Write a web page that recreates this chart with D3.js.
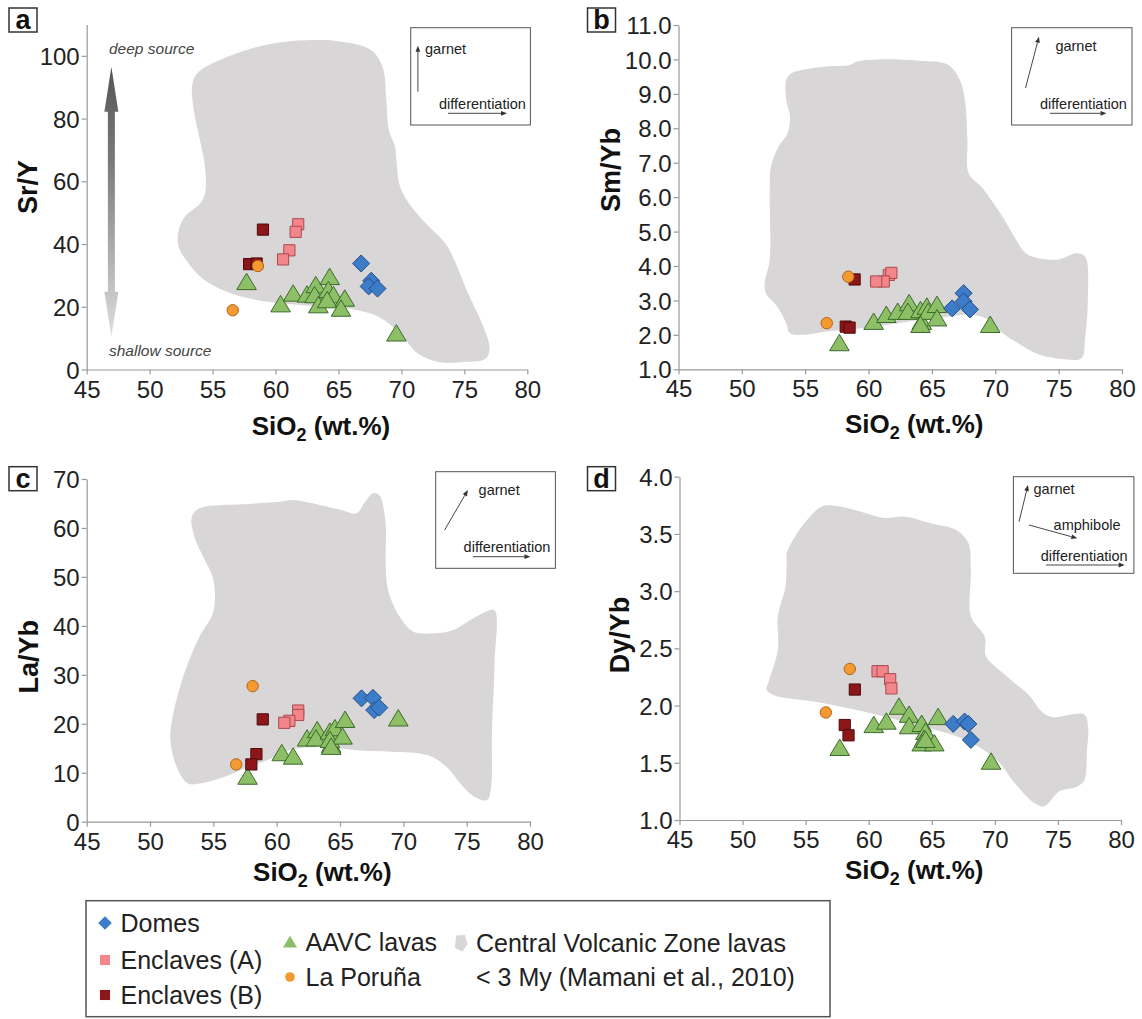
<!DOCTYPE html>
<html><head><meta charset="utf-8">
<script src="https://cdn.jsdelivr.net/npm/d3@7"></script>
<style>
body{margin:0;background:#fff}
svg{display:block;font-family:"Liberation Sans",Arial,Helvetica,sans-serif}
</style>
</head><body>
<svg id="chart" width="1142" height="1019"></svg>
<script>
// ---------- tick labels ----------
const xTicks = [45, 50, 55, 60, 65, 70, 75, 80];
const srYTicks = [0, 20, 40, 60, 80, 100];
const smYbTicks = [1, 2, 3, 4, 5, 6, 7, 8, 9, 10, 11];
const laYbTicks = [0, 10, 20, 30, 40, 50, 60, 70];
const dyYbTicks = [1.0, 1.5, 2.0, 2.5, 3.0, 3.5, 4.0];

// ---------- legend categories ----------
const groupNames = ["Domes", "Enclaves (A)", "Enclaves (B)", "AAVC lavas", "La Poruña"];
const fieldName = ["Central Volcanic Zone lavas", "< 3 My (Mamani et al., 2010)"];

// ---------- panel a : Sr/Y vs SiO2 ----------
const domesA = [[66.8,33.8],[67.6,28.3],[67.4,26.5],[68.1,25.8]];
const enclavesAA = [[61.8,46.3],[61.6,43.9],[61.1,38.0],[60.6,35.1]];
const enclavesBA = [[59.0,44.6],[57.9,33.6],[58.5,33.8]];
const porunaA = [[58.6,33.0],[56.6,18.9]];
const aavcA = [[57.7,27.9],[60.4,20.8],[61.4,24.2],[62.5,23.9],[63.2,26.9],[63.1,23.7],[63.4,20.5],
               [64.3,29.5],[64.2,25.3],[64.6,23.7],[64.1,22.1],[65.5,22.6],[65.2,19.4],[69.6,11.5]];
const cvzA = [[53.4,91.2],[53.9,94.9],[56.5,100.2],[59.7,103.9],[62.5,105],[65.3,104.5],[67.6,101.8],
              [68.5,96.5],[68.8,85.9],[69.0,76.3],[69.5,71],[69.6,66.7],[69.9,58.2],[70.8,51.9],
              [72.2,45.5],[73.5,40.2],[74.2,34.9],[75.3,24.2],[76.4,14.7],[77.0,7.2],[76.7,3.5],
              [75.0,2.4],[73.0,2.4],[71.3,5.1],[69.9,11.5],[68.2,16.8],[66.5,18.9],[64.5,20],
              [62.2,20.5],[59.4,21.6],[56.5,24.2],[54.2,29],[53.1,33.8],[52.3,39.1],[52.3,44.4],
              [52.8,48.7],[54.0,52.9],[54.4,56.1],[54.4,64.6],[54.0,73.1],[53.5,82.7]];

// ---------- panel b : Sm/Yb vs SiO2 ----------
const domesB = [[66.6,2.77],[67.5,3.21],[67.5,2.97],[68.0,2.74]];
const enclavesAB = [[61.6,3.74],[61.8,3.80],[61.2,3.55],[60.6,3.55]];
const enclavesBB = [[58.9,3.61],[58.2,2.24],[58.5,2.21]];
const porunaB = [[58.4,3.69],[56.7,2.34]];
const aavcB = [[57.7,1.76],[60.4,2.38],[61.4,2.58],[62.3,2.67],[63.2,2.92],[63.1,2.67],[64.1,2.72],
               [64.2,2.38],[64.6,2.82],[64.7,2.67],[65.4,2.87],[65.4,2.48],[64.1,2.29],[69.6,2.29]];
const cvzB = [[53.5,9.40],[53.9,9.60],[56.5,9.79],[58.5,9.84],[59.1,9.94],[60.8,10.0],[64.0,9.96],
              [66.3,9.84],[67.2,9.40],[67.6,8.82],[67.8,7.66],[67.9,6.69],[68.9,6.30],[70.4,5.53],
              [71.5,4.85],[72.4,4.37],[73.5,4.22],[75.0,4.19],[76.4,4.37],[77.1,4.27],[77.3,3.01],
              [77.1,1.95],[76.8,1.32],[75.5,1.29],[73.5,1.42],[71.8,1.76],[70.6,2.05],[69.5,2.43],
              [68.3,2.58],[65.2,2.48],[62.3,2.34],[59.4,2.19],[56.5,2.09],[54.8,2.00],[53.8,2.05],
              [53.5,2.34],[52.8,2.82],[51.9,3.21],[51.8,3.50],[52.2,4.18],[52.2,6.11],[52.3,6.89],
              [52.9,7.47],[53.6,7.85],[53.8,8.34],[53.5,8.82]];

// ---------- panel c : La/Yb vs SiO2 ----------
const domesC = [[66.7,25.2],[67.6,25.3],[67.7,22.8],[68.1,23.3]];
const enclavesAC = [[61.7,22.7],[61.7,21.8],[61.0,20.6],[60.6,20.2]];
const enclavesBC = [[58.9,20.9],[58.4,13.8],[58.0,11.7]];
const porunaC = [[58.1,27.7],[56.8,11.7]];
const aavcC = [[57.7,9.2],[60.4,14.0],[61.3,13.3],[62.4,17.0],[63.2,18.7],[63.1,17.0],[64.2,18.4],
               [64.6,19.1],[64.3,15.7],[64.2,16.7],[65.2,17.4],[65.4,20.8],[64.3,15.3],[69.6,21.1]];
const cvzC = [[53.3,62.3],[53.9,64.0],[57.8,64.9],[60.4,65.4],[61.2,65.7],[62.1,65.4],[64.9,63.8],
              [66.3,63.0],[66.9,65.0],[67.6,67.1],[68.1,66.7],[68.6,60.9],[68.6,52.8],[68.8,47.3],
              [69.7,41.9],[70.8,38.8],[72.5,38.5],[73.9,39.1],[75.3,41.2],[76.5,42.9],[77.2,43.2],
              [77.2,32.3],[77.0,18.7],[76.9,6.5],[76.6,4.4],[75.6,5.1],[74.5,7.8],[73.4,11.2],
              [71.9,13.6],[69.1,14.3],[66.3,14.6],[63.5,15.3],[61.0,14.6],[59.3,12.6],[57.8,11.2],
              [55.9,9.2],[53.9,7.8],[53.0,7.8],[52.2,10.6],[51.6,16.7],[51.9,22.8],[52.8,31.0],
              [53.9,37.8],[55.0,42.9],[55.0,49.4],[54.2,54.1],[53.5,58.2]];

// ---------- panel d : Dy/Yb vs SiO2 ----------
const domesD = [[66.7,1.84],[67.6,1.86],[67.9,1.84],[68.1,1.70]];
const enclavesAD = [[60.7,2.30],[61.1,2.30],[61.7,2.23],[61.8,2.15]];
const enclavesBD = [[58.9,2.14],[58.1,1.83],[58.4,1.74]];
const porunaD = [[58.5,2.32],[56.6,1.94]];
const aavcD = [[57.7,1.63],[60.4,1.83],[61.4,1.86],[62.4,1.99],[63.2,1.92],[63.2,1.82],[64.2,1.84],
               [64.5,1.77],[64.4,1.71],[64.2,1.67],[65.2,1.67],[65.5,1.90],[64.5,1.70],[69.7,1.51]];
const cvzD = [[53.5,3.33],[54.0,3.45],[55.1,3.62],[56.3,3.74],[57.7,3.74],[59.5,3.69],[61.2,3.64],
              [62.9,3.65],[65.0,3.59],[67.0,3.53],[67.9,3.42],[68.1,3.18],[68.1,2.78],[69.2,2.60],
              [69.3,2.43],[71.0,2.25],[72.8,2.08],[73.6,1.96],[74.5,1.90],[77.1,1.92],[77.4,1.79],
              [77.3,1.61],[77.1,1.35],[76.5,1.29],[75.1,1.25],[73.9,1.12],[73.1,1.15],[71.6,1.32],
              [70.2,1.52],[68.7,1.64],[67.0,1.73],[65.2,1.79],[62.4,1.87],[59.5,1.95],[56.0,2.03],
              [52.5,2.09],[51.9,2.14],[52.1,2.22],[52.8,2.49],[52.8,2.78],[53.4,3.04],[53.5,3.24]];

// ---------- styles ----------
const FIELD = "#d8d6d6";
const AXIS = "#999";
const TXT = "#222";
const styles = {
  dome:  {fill:"#3d7cc9", stroke:"#234f86"},
  encA:  {fill:"#f2868a", stroke:"#a94a4e"},
  encB:  {fill:"#8c171b", stroke:"#4d0a0c"},
  aavc:  {fill:"#8dc066", stroke:"#3c6a2b"},
  poru:  {fill:"#f59a30", stroke:"#b0661a"}
};

const svg = d3.select("#chart");
const defs = svg.append("defs");
const grad = defs.append("linearGradient").attr("id","depthGrad")
  .attr("x1",0).attr("y1",0).attr("x2",0).attr("y2",1);
grad.append("stop").attr("offset","0%").attr("stop-color","#555");
grad.append("stop").attr("offset","35%").attr("stop-color","#7a7a7a");
grad.append("stop").attr("offset","100%").attr("stop-color","#dedede");

function shapePath(kind, s) {
  s = s || 1;
  if (kind === "dome") { const h = 8.5*s; return `M0,${-h}L${h},0L0,${h}L${-h},0Z`; }
  if (kind === "encA" || kind === "encB") { const h = 5.6*s; return `M${-h},${-h}H${h}V${h}H${-h}Z`; }
  if (kind === "aavc") { return `M0,${-8.8*s}L${9.8*s},${7.6*s}L${-9.8*s},${7.6*s}Z`; }
  if (kind === "poru") { return d3.symbol(d3.symbolCircle, Math.PI*Math.pow(5.7*s,2))(); }
}

function arrow(g, x1, y1, x2, y2, color, w) {
  color = color || "#333"; w = w || 0.9;
  const ang = Math.atan2(y2-y1, x2-x1);
  const L = 6, W = 2.4;
  const bx = x2 - L*Math.cos(ang), by = y2 - L*Math.sin(ang);
  g.append("line").attr("x1",x1).attr("y1",y1).attr("x2",bx).attr("y2",by)
    .attr("stroke",color).attr("stroke-width",w);
  const px = -Math.sin(ang)*W, py = Math.cos(ang)*W;
  g.append("path").attr("d",`M${x2},${y2}L${bx+px},${by+py}L${bx-px},${by-py}Z`).attr("fill",color);
}

function drawPanel(p) {
  const g = svg.append("g");
  const x = d3.scaleLinear().domain([45, 80]).range(p.xr);
  const y = d3.scaleLinear().domain(p.yDomain).range(p.yr);

  // field
  const line = d3.line().x(d => x(d[0])).y(d => y(d[1])).curve(d3.curveCatmullRomClosed.alpha(0.5));
  g.append("path").attr("d", line(p.field)).attr("fill", FIELD);

  // axes
  const ax = g.append("g").attr("transform", `translate(0,${p.yr[0]})`)
    .call(d3.axisBottom(x).tickValues(xTicks).tickSize(5).tickPadding(6).tickSizeOuter(0));
  const ay = g.append("g").attr("transform", `translate(${p.xr[0]},0)`)
    .call(d3.axisLeft(y).tickValues(p.yTicks).tickFormat(p.fmt).tickSize(5).tickPadding(2).tickSizeOuter(0));
  [ax, ay].forEach(a => {
    a.select(".domain").attr("stroke", AXIS).attr("stroke-width", 1.2);
    a.selectAll(".tick line").attr("stroke", AXIS).attr("stroke-width", 1.2);
    a.selectAll(".tick text").attr("fill", TXT).style("font-size", "24px")
      .style("font-family", '"Liberation Sans",Arial,sans-serif');
  });
  ay.selectAll(".tick text").attr("dy", "0.36em");

  // points
  const groups = [
    ["aavc", p.aavc], ["dome", p.dome], ["encA", p.encA], ["encB", p.encB], ["poru", p.poru]
  ];
  groups.forEach(([k, data]) => {
    g.append("g").selectAll("path").data(data).join("path")
      .attr("transform", d => `translate(${x(d[0])},${y(d[1])})`)
      .attr("d", shapePath(k))
      .attr("fill", styles[k].fill).attr("stroke", styles[k].stroke).attr("stroke-width", 1);
  });

  // panel letter box
  g.append("rect").attr("x", p.box[0]).attr("y", p.box[1]).attr("width", 28).attr("height", 24)
    .attr("fill", "#fff").attr("stroke", "#333").attr("stroke-width", 1.5);
  g.append("text").attr("x", p.box[0] + 14).attr("y", p.box[1] + 21).attr("text-anchor", "middle")
    .attr("font-weight", "bold").attr("font-size", 27).attr("fill", "#111").text(p.letter);

  // y title
  g.append("text").attr("transform", `translate(${p.yt[0]},${p.yt[1]}) rotate(-90)`)
    .attr("text-anchor", "middle").attr("dy", "0.36em")
    .attr("font-weight", "bold").attr("font-size", 27).attr("fill", "#111").text(p.yTitle);

  // x title
  const xt = g.append("text").attr("x", (p.xr[0] + p.xr[1]) / 2 + 14).attr("y", p.xtY)
    .attr("text-anchor", "middle").attr("font-weight", "bold").attr("font-size", 26).attr("fill", "#111");
  xt.append("tspan").text("SiO");
  xt.append("tspan").attr("font-size", 18).attr("dy", 6).text("2");
  xt.append("tspan").attr("dy", -6).text(" (wt.%)");

  // inset
  const b = p.inset;
  g.append("rect").attr("x", b.box[0]).attr("y", b.box[1]).attr("width", b.box[2]).attr("height", b.box[3])
    .attr("fill", "#fff").attr("stroke", "#555").attr("stroke-width", 1);
  b.arrows.forEach(a => arrow(g, a[0], a[1], a[2], a[3]));
  b.texts.forEach(t => g.append("text").attr("x", t[0]).attr("y", t[1]).attr("dy", "0.35em")
    .attr("font-size", 14.5).attr("fill", TXT).text(t[2]));

  return {g, x, y};
}

// ---------- panel a ----------
const pa = drawPanel({
  xr: [86.7, 527.3], yr: [369.5, 24.5], yDomain: [0, 110], yTicks: srYTicks, fmt: d3.format("d"),
  field: cvzA, dome: domesA, encA: enclavesAA, encB: enclavesBA, poru: porunaA, aavc: aavcA,
  box: [9, 8], letter: "a", yTitle: "Sr/Y", yt: [27, 187], xtY: 435,
  inset: {box: [410.7, 27.7, 119.7, 97.3],
          arrows: [[417.9, 91.7, 417.9, 45.7], [448, 113.3, 507, 113.3]],
          texts: [[425, 49, "garnet"], [439, 104, "differentiation"]]}
});
// deep / shallow source arrow (in data coordinates of panel a)
(function(){
  const {g, x, y} = pa;
  const cx = x(46.96), top = y(96.5), hb = y(82.2), ht = y(24.8), bot = y(10.5);
  const hw = 7, sw = 3.5;
  g.append("path").attr("d",
    `M${cx},${top}L${cx+hw},${hb}L${cx+sw},${hb}L${cx+sw},${ht}L${cx+hw},${ht}L${cx},${bot}` +
    `L${cx-hw},${ht}L${cx-sw},${ht}L${cx-sw},${hb}L${cx-hw},${hb}Z`)
    .attr("fill", "url(#depthGrad)");
  g.append("text").attr("x", x(46.77)).attr("y", y(102.4)).attr("dy", "0.35em")
    .attr("font-style", "italic").attr("font-size", 15.5).attr("fill", "#444").text("deep source");
  g.append("text").attr("x", x(46.77)).attr("y", y(6.0)).attr("dy", "0.35em")
    .attr("font-style", "italic").attr("font-size", 15.5).attr("fill", "#444").text("shallow source");
})();

// ---------- panel b ----------
drawPanel({
  xr: [678.5, 1122], yr: [369.3, 25], yDomain: [1, 11], yTicks: smYbTicks, fmt: d3.format(".1f"),
  field: cvzB, dome: domesB, encA: enclavesAB, encB: enclavesBB, poru: porunaB, aavc: aavcB,
  box: [587.5, 8], letter: "b", yTitle: "Sm/Yb", yt: [610, 170], xtY: 433,
  inset: {box: [1011.6, 27.7, 120.4, 97.3],
          arrows: [[1025.5, 88, 1039, 36.7], [1050, 113.3, 1106.5, 113.3]],
          texts: [[1055.4, 46, "garnet"], [1040, 104, "differentiation"]]}
});

// ---------- panel c ----------
drawPanel({
  xr: [86.7, 530], yr: [821.7, 479], yDomain: [0, 70], yTicks: laYbTicks, fmt: d3.format("d"),
  field: cvzC, dome: domesC, encA: enclavesAC, encB: enclavesBC, poru: porunaC, aavc: aavcC,
  box: [9, 466.7], letter: "c", yTitle: "La/Yb", yt: [28.6, 656.7], xtY: 881,
  inset: {box: [435.7, 471.7, 119.7, 96.6],
          arrows: [[444.6, 530, 467.9, 490], [473, 556.7, 530.4, 556.7]],
          texts: [[478.6, 490, "garnet"], [463.6, 547.3, "differentiation"]]}
});

// ---------- panel d ----------
drawPanel({
  xr: [679.5, 1121], yr: [820, 476.7], yDomain: [1, 4], yTicks: dyYbTicks, fmt: d3.format(".1f"),
  field: cvzD, dome: domesD, encA: enclavesAD, encB: enclavesBD, poru: porunaD, aavc: aavcD,
  box: [587.5, 466.7], letter: "d", yTitle: "Dy/Yb", yt: [619.3, 635], xtY: 879,
  inset: {box: [1013.4, 476.7, 120.5, 96.6],
          arrows: [[1019, 521.7, 1028, 485], [1029, 525, 1077.3, 538.3], [1046, 565, 1124.7, 565]],
          texts: [[1033.5, 489.3, "garnet"], [1053.6, 525, "amphibole"], [1040.8, 556, "differentiation"]]}
});

// ---------- legend ----------
const lg = svg.append("g");
lg.append("rect").attr("x", 86).attr("y", 900.7).attr("width", 744).attr("height", 116)
  .attr("fill", "#fff").attr("stroke", "#555").attr("stroke-width", 1.5);
const legendItems = [
  {k:"dome", x:105, y:923, name: groupNames[0]},
  {k:"encA", x:105, y:960, name: groupNames[1]},
  {k:"encB", x:105, y:995, name: groupNames[2]},
  {k:"aavc", x:290, y:942, name: groupNames[3]},
  {k:"poru", x:290, y:977, name: groupNames[4]}
];
const legScale = {dome:0.8, encA:0.9, encB:0.9, aavc:0.72, poru:0.85};
legendItems.forEach(it => {
  lg.append("path").attr("transform", `translate(${it.x},${it.y})`).attr("d", shapePath(it.k, legScale[it.k]))
    .attr("fill", styles[it.k].fill).attr("stroke", "none");
  lg.append("text").attr("x", it.x + 15.5).attr("y", it.y).attr("dy", "0.36em")
    .attr("font-size", 25).attr("fill", TXT).text(it.name);
});
lg.append("path").attr("transform", "translate(461,943)")
  .attr("d", "M-5,-7.5L4,-8L6.5,1L1.5,8.5L-6,5Z").attr("fill", FIELD);
lg.append("text").attr("x", 476).attr("y", 943).attr("dy", "0.36em").attr("font-size", 25).attr("fill", TXT).text(fieldName[0]);
lg.append("text").attr("x", 476).attr("y", 977).attr("dy", "0.36em").attr("font-size", 25).attr("fill", TXT).text(fieldName[1]);
</script>
</body></html>
